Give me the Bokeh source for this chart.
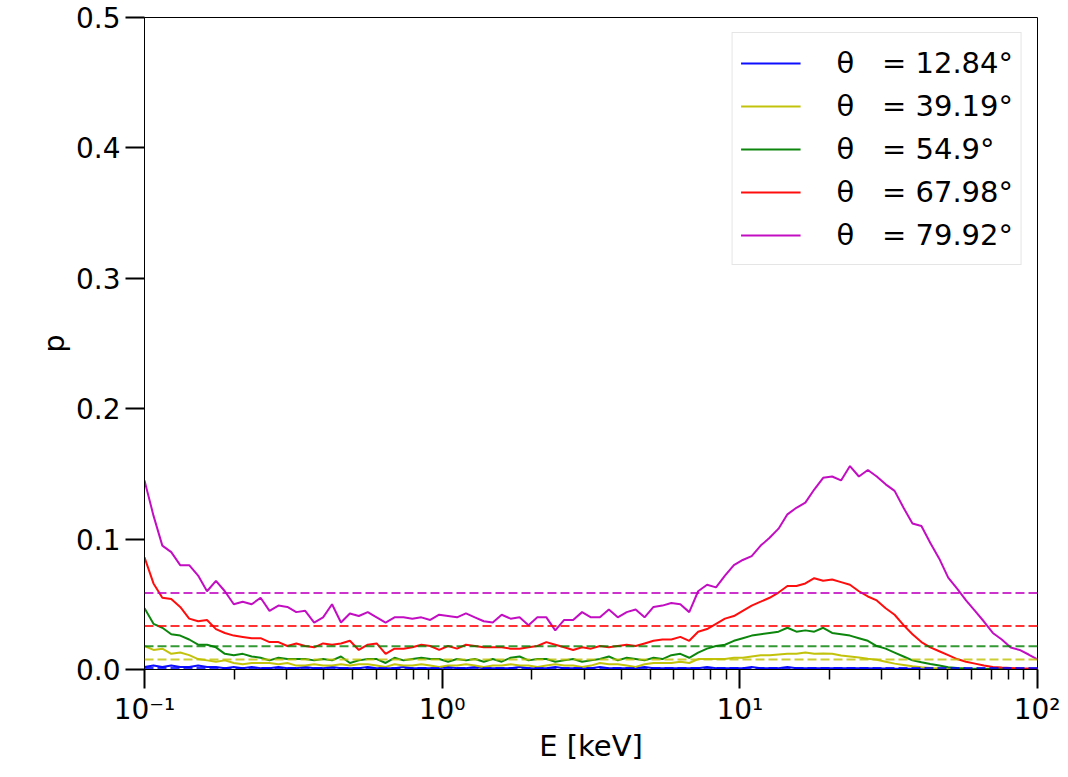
from bokeh.plotting import figure
from bokeh.models import (Range1d, FixedTicker, CustomJSTickFormatter, PrintfTickFormatter,
                          Span, Legend, LegendItem)
from bokeh.embed import file_html
from bokeh.resources import INLINE

# Energy grid [keV]
E = [0.1000, 0.1072, 0.1148, 0.1230, 0.1318, 0.1413, 0.1514, 0.1622, 0.1738, 0.1862,
     0.1995, 0.2138, 0.2291, 0.2455, 0.2630, 0.2818, 0.3020, 0.3236, 0.3467, 0.3715,
     0.3981, 0.4266, 0.4571, 0.4898, 0.5248, 0.5623, 0.6026, 0.6457, 0.6918, 0.7413,
     0.7943, 0.8511, 0.9120, 0.9772, 1.047, 1.122, 1.202, 1.288, 1.380, 1.479,
     1.585, 1.698, 1.820, 1.950, 2.089, 2.239, 2.399, 2.570, 2.754, 2.951,
     3.162, 3.388, 3.631, 3.890, 4.169, 4.467, 4.786, 5.129, 5.495, 5.888,
     6.310, 6.761, 7.244, 7.762, 8.318, 8.913, 9.550, 10.23, 10.96, 11.75,
     12.59, 13.49, 14.45, 15.49, 16.60, 17.78, 19.05, 20.42, 21.88, 23.44,
     25.12, 26.92, 28.84, 30.90, 33.11, 35.48, 38.02, 40.74, 43.65, 46.77,
     50.12, 53.70, 57.54, 61.66, 66.07, 70.79, 75.86, 81.28, 87.10, 93.33,
     100.0]

p_12_84 = [0.002, 0.003, 0.002, 0.003, 0.002, 0.002, 0.003, 0.002, 0.002, 0.001,
           0.002, 0.001, 0.002, 0.001, 0.001, 0.002, 0.001, 0.001, 0.002, 0.001,
           0.001, 0.002, 0.001, 0.001, 0.001, 0.002, 0.001, 0.001, 0.001, 0.002,
           0.001, 0.001, 0.001, 0.001, 0.002, 0.001, 0.001, 0.002, 0.001, 0.001,
           0.001, 0.001, 0.002, 0.001, 0.001, 0.001, 0.002, 0.001, 0.001, 0.001,
           0.001, 0.002, 0.001, 0.001, 0.001, 0.001, 0.002, 0.001, 0.001, 0.001,
           0.001, 0.001, 0.001, 0.002, 0.001, 0.001, 0.001, 0.001, 0.002, 0.001,
           0.001, 0.001, 0.002, 0.001, 0.001, 0.001, 0.001, 0.001, 0.001, 0.001,
           0.001, 0.001, 0.0008, 0.0007, 0.0006, 0.0005, 0.0005, 0.0004, 0.0004, 0.0003,
           0.0003, 0.0003, 0.0002, 0.0002, 0.0002, 0.0002, 0.0002, 0.0001, 0.0001, 0.0001,
           0.0001]

p_39_19 = [0.018, 0.015, 0.016, 0.012, 0.013, 0.011, 0.008, 0.007, 0.006, 0.007,
           0.005, 0.004, 0.005, 0.005, 0.005, 0.004, 0.005, 0.003, 0.003, 0.004,
           0.003, 0.003, 0.004, 0.003, 0.004, 0.004, 0.003, 0.002, 0.004, 0.003,
           0.003, 0.004, 0.003, 0.002, 0.003, 0.003, 0.004, 0.003, 0.002, 0.003,
           0.003, 0.004, 0.003, 0.003, 0.002, 0.003, 0.004, 0.003, 0.003, 0.002,
           0.003, 0.005, 0.004, 0.004, 0.003, 0.002, 0.004, 0.005, 0.005, 0.005,
           0.006, 0.005, 0.008, 0.008, 0.008, 0.008, 0.009, 0.009, 0.010, 0.011,
           0.011, 0.0115, 0.012, 0.012, 0.013, 0.012, 0.0123, 0.012, 0.0107, 0.010,
           0.0092, 0.0082, 0.0075, 0.006, 0.0045, 0.0035, 0.0025, 0.0017, 0.0012, 0.0009,
           0.0007, 0.0005, 0.0004, 0.0003, 0.0003, 0.0002, 0.0002, 0.0002, 0.0001, 0.0001,
           0.0001]

p_54_9 = [0.047, 0.035, 0.032, 0.027, 0.026, 0.023, 0.019, 0.019, 0.017, 0.012,
          0.011, 0.012, 0.010, 0.009, 0.007, 0.009, 0.008, 0.008, 0.008, 0.007,
          0.008, 0.007, 0.010, 0.005, 0.007, 0.008, 0.008, 0.005, 0.009, 0.007,
          0.008, 0.009, 0.008, 0.008, 0.006, 0.008, 0.007, 0.008, 0.006, 0.008,
          0.006, 0.009, 0.010, 0.007, 0.008, 0.008, 0.006, 0.007, 0.008, 0.006,
          0.007, 0.008, 0.010, 0.007, 0.009, 0.008, 0.007, 0.009, 0.008, 0.011,
          0.012, 0.009, 0.013, 0.016, 0.018, 0.019, 0.022, 0.024, 0.026, 0.027,
          0.028, 0.029, 0.032, 0.029, 0.030, 0.029, 0.032, 0.028, 0.027, 0.026,
          0.024, 0.022, 0.018, 0.016, 0.013, 0.010, 0.007, 0.0055, 0.0042, 0.003,
          0.0017, 0.0011, 0.0008, 0.0006, 0.0005, 0.0004, 0.0003, 0.0003, 0.0002, 0.0002,
          0.0002]

p_67_98 = [0.086, 0.066, 0.055, 0.054, 0.048, 0.039, 0.037, 0.038, 0.031, 0.028,
           0.026, 0.025, 0.024, 0.024, 0.021, 0.021, 0.018, 0.020, 0.018, 0.017,
           0.020, 0.019, 0.020, 0.022, 0.015, 0.019, 0.020, 0.012, 0.016, 0.016,
           0.017, 0.019, 0.018, 0.015, 0.018, 0.016, 0.019, 0.018, 0.017, 0.017,
           0.017, 0.016, 0.016, 0.017, 0.018, 0.021, 0.019, 0.017, 0.015, 0.017,
           0.016, 0.018, 0.017, 0.018, 0.019, 0.018, 0.020, 0.022, 0.023, 0.023,
           0.025, 0.022, 0.029, 0.031, 0.035, 0.039, 0.041, 0.045, 0.049, 0.052,
           0.055, 0.059, 0.064, 0.064, 0.066, 0.070, 0.068, 0.069, 0.067, 0.065,
           0.060, 0.056, 0.053, 0.047, 0.042, 0.034, 0.027, 0.021, 0.017, 0.014,
           0.011, 0.008, 0.006, 0.0045, 0.003, 0.002, 0.0015, 0.0012, 0.0009, 0.0007,
           0.0005]

p_79_92 = [0.145, 0.118, 0.095, 0.090, 0.080, 0.080, 0.072, 0.060, 0.068, 0.060,
           0.050, 0.052, 0.050, 0.055, 0.045, 0.049, 0.048, 0.044, 0.045, 0.036,
           0.040, 0.050, 0.036, 0.043, 0.041, 0.044, 0.040, 0.036, 0.040, 0.040,
           0.039, 0.040, 0.038, 0.042, 0.041, 0.040, 0.043, 0.040, 0.037, 0.036,
           0.042, 0.039, 0.040, 0.034, 0.040, 0.040, 0.030, 0.038, 0.038, 0.044,
           0.040, 0.040, 0.046, 0.040, 0.044, 0.046, 0.040, 0.048, 0.049, 0.051,
           0.050, 0.044, 0.060, 0.065, 0.063, 0.072, 0.080, 0.084, 0.087, 0.095,
           0.101, 0.108, 0.119, 0.124, 0.128, 0.138, 0.147, 0.148, 0.145, 0.156,
           0.148, 0.153, 0.148, 0.142, 0.137, 0.124, 0.112, 0.110, 0.097, 0.085,
           0.0705, 0.062, 0.053, 0.045, 0.0368, 0.028, 0.023, 0.0169, 0.015, 0.0115,
           0.0077]

labels = ["12.84°", "39.19°", "54.9°", "67.98°", "79.92°"]
series = [p_12_84, p_39_19, p_54_9, p_67_98, p_79_92]
means = [0.0012, 0.0077, 0.0178, 0.0333, 0.0586]
colors = ["#0000ff", "#bfbf00", "#008000", "#ff0000", "#bf00bf"]

FONT = "DejaVu Sans"

p = figure(width=1060, height=769, x_axis_type="log",
           x_range=Range1d(0.1, 100), y_range=Range1d(0, 0.5),
           output_backend="svg", toolbar_location=None,
           min_border_left=144, min_border_right=23, min_border_top=17, min_border_bottom=100)
p.xgrid.visible = False
p.ygrid.visible = False
p.outline_line_color = "black"
p.outline_line_width = 1
p.background_fill_color = "white"
p.border_fill_color = "white"

items = []
for lab, ys, mu, c in zip(labels, series, means, colors):
    r = p.line(E, ys, line_color=c, line_width=2, line_alpha=0.95)
    p.add_layout(Span(location=mu, dimension="width", line_color=c, line_width=2,
                      line_dash="9 4", line_alpha=0.8))
    items.append(LegendItem(label="θ\u00a0\u00a0\u00a0= " + lab, renderers=[r]))

legend = Legend(items=items, location="top_right", margin=15,
                label_text_font=FONT, label_text_font_size="29px",
                label_text_color="black", label_standoff=36,
                glyph_width=60, glyph_height=30, label_height=43, spacing=0,
                padding=8, border_line_color="#cccccc", border_line_width=1,
                background_fill_alpha=0.8)
p.add_layout(legend)

# x axis
minor = [m * d for d in (0.1, 1, 10) for m in range(2, 10)]
p.xaxis.ticker = FixedTicker(ticks=[0.1, 1, 10, 100], minor_ticks=minor)
p.xaxis.formatter = CustomJSTickFormatter(code="""
const e = Math.round(Math.log10(tick));
const sup = {'-1': '\u207b\u00b9', '0': '\u2070', '1': '\u00b9', '2': '\u00b2'};
return '10' + sup[String(e)];
""")
p.xaxis.axis_label = "E [keV]"

# y axis
p.yaxis.ticker = FixedTicker(ticks=[0.0, 0.1, 0.2, 0.3, 0.4, 0.5], minor_ticks=[])
p.yaxis.formatter = PrintfTickFormatter(format="%.1f")
p.yaxis.axis_label = "p"

for ax in (p.xaxis[0], p.yaxis[0]):
    ax.axis_line_width = 1
    ax.axis_line_color = "black"
    ax.major_tick_in = 0
    ax.major_tick_out = 19
    ax.major_tick_line_width = 2
    ax.minor_tick_in = 0
    ax.minor_tick_out = 10
    ax.minor_tick_line_width = 1.5
    ax.major_label_text_font = FONT
    ax.major_label_text_font_size = "28px"
    ax.major_label_text_color = "black"
    ax.axis_label_text_font = FONT
    ax.axis_label_text_font_size = "29px"
    ax.axis_label_text_font_style = "normal"
    ax.axis_label_text_color = "black"

p.yaxis.major_label_standoff = 5
p.xaxis.major_label_standoff = 4
p.xaxis.axis_label_standoff = 0
p.yaxis.axis_label_standoff = 2

open("out.html", "w").write(file_html(p, INLINE))
